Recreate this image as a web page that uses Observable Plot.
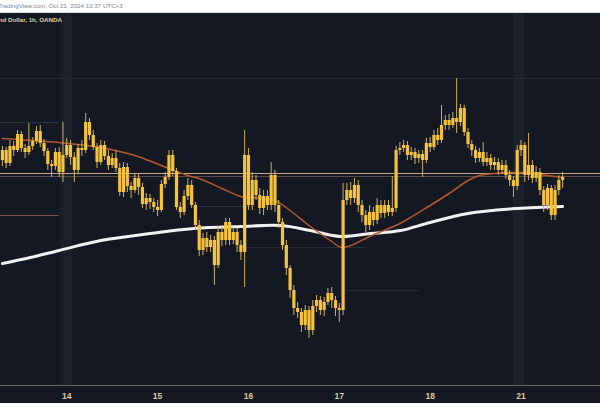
<!DOCTYPE html>
<html><head><meta charset="utf-8">
<script src="https://cdn.jsdelivr.net/npm/d3@7"></script>
<script src="https://cdn.jsdelivr.net/npm/@observablehq/plot@0.6"></script>
<style>
html,body{margin:0;padding:0;background:#fff;}
#wrap{position:relative;width:600px;height:420px;overflow:hidden;background:#fff;font-family:"Liberation Sans",Arial,sans-serif;}
#top{height:12px;border-bottom:1px solid #d5d8de;position:relative;overflow:hidden;background:#fff;}
#top span{position:absolute;left:-2px;top:2px;font-size:6.2px;color:#80848c;white-space:nowrap;}
#chart{height:390px;}
#chart svg{display:block;}
#title{position:absolute;left:0;top:16px;width:62px;height:9px;overflow:hidden;}
#title span{position:absolute;right:0;top:0;font-size:6.2px;font-weight:bold;color:#e2cf9c;white-space:nowrap;}
#bottom{height:17px;background:#fff;}
</style></head>
<body><div id="wrap"><div id="top"><span>TradingView.com, Oct 21, 2024 12:37 UTC+3</span></div><div id="chart"></div><div id="bottom"></div><div id="title"><span>New Zealand Dollar, 1h, OANDA</span></div></div>
<script>
// Hourly candles, bar index 0..148 (Oct 11 late -> Oct 21 12:00)
const firstOpen = 0.60860;
const closes = [
0.60900,0.60848,0.60916,0.60900,0.60964,0.60908,0.60892,0.60916,0.60936,0.60976,
0.60928,0.60896,0.60844,0.60836,0.60892,0.60812,0.60880,0.60920,0.60872,0.60820,
0.60908,0.60900,0.61012,0.60960,0.60912,0.60852,0.60920,0.60876,0.60840,0.60868,
0.60828,0.60732,0.60832,0.60756,0.60740,0.60788,0.60752,0.60684,0.60708,0.60692,
0.60672,0.60660,0.60764,0.60792,0.60880,0.60816,0.60672,0.60652,0.60716,0.60760,
0.60680,0.60600,0.60500,0.60548,0.60512,0.60540,0.60440,0.60572,0.60540,0.60612,
0.60540,0.60572,0.60520,0.60492,0.60880,0.60680,0.60780,0.60720,0.60668,0.60716,
0.60680,0.60800,0.60680,0.60612,0.60520,0.60428,0.60340,0.60268,0.60252,0.60200,
0.60260,0.60180,0.60276,0.60300,0.60260,0.60292,0.60328,0.60300,0.60268,0.60260,
0.60700,0.60740,0.60708,0.60760,0.60680,0.60640,0.60600,0.60652,0.60620,0.60680,
0.60648,0.60680,0.60652,0.60668,0.60900,0.60908,0.60920,0.60880,0.60892,0.60868,
0.60884,0.60860,0.60928,0.60912,0.60960,0.60940,0.61000,0.61020,0.61000,0.61028,
0.61012,0.61068,0.60972,0.60924,0.60900,0.60868,0.60892,0.60852,0.60868,0.60840,
0.60852,0.60820,0.60840,0.60800,0.60780,0.60756,0.60900,0.60920,0.60800,0.60840,
0.60788,0.60812,0.60740,0.60680,0.60748,0.60640,0.60740,0.60780,0.60792];
const highs = [
0.60916,0.60912,0.60940,0.60936,0.60980,0.60976,0.60924,0.61008,0.60952,0.60996,
0.61000,0.60944,0.60908,0.60860,0.60908,0.60912,0.61012,0.60948,0.60940,0.60892,
0.60924,0.60940,0.61048,0.61028,0.60980,0.60928,0.60940,0.60936,0.60900,0.60888,
0.60900,0.60848,0.60852,0.60848,0.60772,0.60808,0.60804,0.60768,0.60728,0.60724,
0.60708,0.60700,0.60780,0.60812,0.60900,0.60900,0.60828,0.60692,0.60740,0.60788,
0.60780,0.60692,0.60620,0.60568,0.60572,0.60560,0.60556,0.60596,0.60600,0.60628,
0.60628,0.60592,0.60588,0.60540,0.60980,0.60908,0.60812,0.60800,0.60748,0.60740,
0.60740,0.60852,0.60820,0.60700,0.60628,0.60540,0.60440,0.60360,0.60292,0.60268,
0.60280,0.60276,0.60300,0.60320,0.60316,0.60312,0.60348,0.60352,0.60316,0.60288,
0.60768,0.60768,0.60772,0.60788,0.60780,0.60700,0.60660,0.60680,0.60672,0.60708,
0.60700,0.60700,0.60700,0.60796,0.60916,0.60932,0.60940,0.60936,0.60912,0.60908,
0.60900,0.60900,0.60948,0.60952,0.60980,0.60988,0.61080,0.61040,0.61044,0.61052,
0.61188,0.61084,0.61080,0.60988,0.60940,0.60916,0.60908,0.60932,0.60892,0.60884,
0.60872,0.60868,0.60860,0.60860,0.60820,0.60796,0.60920,0.60940,0.60932,0.60968,
0.60860,0.60836,0.60828,0.60756,0.60764,0.60760,0.60760,0.60800,0.60812];
const lows = [
0.60836,0.60828,0.60836,0.60876,0.60892,0.60892,0.60868,0.60880,0.60900,0.60924,
0.60912,0.60876,0.60820,0.60792,0.60820,0.60792,0.60772,0.60868,0.60840,0.60772,
0.60804,0.60876,0.60888,0.60940,0.60900,0.60828,0.60840,0.60860,0.60820,0.60828,
0.60812,0.60716,0.60712,0.60732,0.60708,0.60728,0.60720,0.60668,0.60660,0.60664,
0.60652,0.60636,0.60652,0.60748,0.60780,0.60796,0.60660,0.60628,0.60640,0.60700,
0.60668,0.60580,0.60476,0.60480,0.60492,0.60492,0.60360,0.60428,0.60516,0.60520,
0.60520,0.60524,0.60492,0.60460,0.60352,0.60660,0.60660,0.60700,0.60644,0.60640,
0.60660,0.60660,0.60652,0.60588,0.60500,0.60400,0.60308,0.60240,0.60228,0.60172,
0.60180,0.60148,0.60160,0.60252,0.60240,0.60236,0.60280,0.60268,0.60236,0.60212,
0.60240,0.60680,0.60680,0.60688,0.60652,0.60612,0.60572,0.60580,0.60596,0.60604,
0.60628,0.60628,0.60636,0.60636,0.60652,0.60880,0.60892,0.60860,0.60860,0.60844,
0.60848,0.60792,0.60848,0.60892,0.60900,0.60920,0.60928,0.60980,0.60980,0.60988,
0.60968,0.60996,0.60956,0.60908,0.60876,0.60848,0.60852,0.60836,0.60836,0.60820,
0.60820,0.60800,0.60804,0.60784,0.60756,0.60712,0.60740,0.60876,0.60772,0.60780,
0.60768,0.60772,0.60720,0.60652,0.60660,0.60620,0.60620,0.60720,0.60748];

// Moving averages (bar index, price)
const maFastIdx = [0,15,26,35,42,49,52,58,63,68,72,76,81,87,89.5,92,97,105,113,118,123,126,130,137,142,148];
const maFastVal = [0.60948,0.60932,0.60912,0.60880,0.60840,0.60800,0.60788,0.60748,0.60716,0.60710,0.60700,0.60660,0.60600,0.60536,0.60512,0.60520,0.60556,0.60608,0.60680,0.60728,0.60780,0.60800,0.60808,0.60812,0.60804,0.60792];
const maSlowIdx = [0,7.4,15,26,39,50.5,63,73.5,81.4,89.3,97.3,105.2,113,123,136,148];
const maSlowVal = [0.60448,0.60472,0.60500,0.60540,0.60568,0.60588,0.60596,0.60600,0.60580,0.60556,0.60568,0.60580,0.60612,0.60648,0.60668,0.60676];

// Day ticks
const dayStart = [17,41,65,89,113,137];
const dayLabels = ["14","15","16","17","18","21"];

// Highlighted week-start columns
const bandStart = [15.4,135.0];
const bandEnd = [18.5,137.9];

// Horizontal levels
const levelPrice = [0.61188,0.61012,0.60808,0.60796,0.60640,0.60676,0.60512,0.60340];
const levelFrom  = [-0.5,-0.5,-0.5,-0.5,-0.5,52,62,91];
const levelTo    = [158,15,158,158,15,66,96,110];
const levelColor = ["#242935","#2e3240","#c9a58b","#5a4c4a","#7d503f","#2c303d","#292d3a","#292d3a"];

const xDomain = [-0.5, 158];
const yDomain = [0.59960, 0.61448];

const bars = closes.map((c, i) => ({i, open: i === 0 ? firstOpen : closes[i-1], close: c, high: highs[i], low: lows[i]}));
const fast = maFastIdx.map((i, k) => ({i, v: maFastVal[k]}));
const slow = maSlowIdx.map((i, k) => ({i, v: maSlowVal[k]}));
const bands = bandStart.map((s, k) => ({start: s, end: bandEnd[k]}));
const levels = levelPrice.map((p, k) => ({price: p, from: levelFrom[k], to: levelTo[k], color: levelColor[k]}));

const chart = Plot.plot({
  width: 600, height: 390,
  marginTop: 0, marginBottom: 18, marginLeft: 0, marginRight: 0,
  style: {background: "#141823", fontFamily: "Liberation Sans, Arial, sans-serif"},
  x: {type: "linear", domain: xDomain},
  y: {domain: yDomain, axis: null},
  marks: [
    Plot.rect(bands, {x1: "start", x2: "end", fill: "#1c202b"}),
    Plot.ruleY(levels, {y: "price", x1: "from", x2: "to", stroke: "color", strokeWidth: 1}),
    Plot.line(slow, {x: "i", y: "v", stroke: "#f2f2f2", strokeWidth: 3, curve: "catmull-rom"}),
    Plot.line(fast, {x: "i", y: "v", stroke: "#b9582c", strokeWidth: 1.5, curve: "catmull-rom"}),
    Plot.ruleX(bars, {x: "i", y1: "low", y2: "high", stroke: "#cdb160", strokeWidth: 1}),
    Plot.ruleX(bars, {x: "i", y1: "open", y2: "close", stroke: "#f5c43c", strokeWidth: 3.2}),
    Plot.ruleY([yDomain[0]], {stroke: "#6b6259"}),
    Plot.axisX({ticks: dayStart, tickFormat: d => dayLabels[dayStart.indexOf(d)], tickSize: 0, tickPadding: 7, fill: "#dccb9b", fontWeight: "bold", fontSize: 8.5})
  ]
});
document.getElementById("chart").appendChild(chart);
</script>
</body></html>
